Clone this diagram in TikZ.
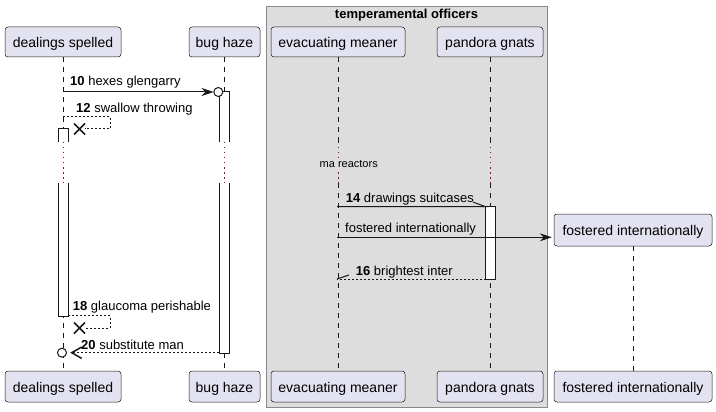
\documentclass[tikz,border=0pt]{standalone}
\usepackage{fontspec}
\setmainfont{Liberation Sans}
\usetikzlibrary{arrows.meta}
\definecolor{partfill}{HTML}{E2E2F0}
\definecolor{partline}{HTML}{181818}
\definecolor{grpfill}{HTML}{DDDDDD}
\definecolor{grpline}{HTML}{888888}
\definecolor{delaycol}{HTML}{A80036}
\begin{document}
\begin{tikzpicture}[x=1pt,y=-1pt,
  part/.style={rectangle,rounded corners=3pt,draw=partline,line width=0.5pt,fill=partfill,
    font=\fontsize{14}{16}\selectfont,text height=12pt,text depth=1pt,inner sep=0pt,minimum height=30pt},
  lbl/.style={anchor=base west,inner sep=0pt,font=\fontsize{13}{15}\selectfont},
  msg/.style={draw=partline,line width=1pt},
  msgd/.style={msg,dash pattern=on 2pt off 2pt},
  lifel/.style={draw=partline,line width=0.5pt,dash pattern=on 5pt off 5pt},
  delayl/.style={draw=delaycol,line width=1pt,dash pattern=on 1.5pt off 3.5pt},
  actbar/.style={draw=partline,line width=1pt},
  xmark/.style={draw=partline,line width=1.5pt},
  tipf/.style={-{Stealth[length=12pt,width=8pt,inset=4pt]}}]
\useasboundingbox (0,0) rectangle (716,412);
% group box
\node[draw=grpline,fill=grpfill,line width=1pt,minimum width=281pt,minimum height=401pt,inner sep=0pt,anchor=north west] (grp) at (266,6) {};
\node[anchor=base,inner sep=0pt,font=\bfseries\fontsize{13}{15}\selectfont] (grpt) at (406.5,19) {temperamental officers};
% participants (top)
\node[part,minimum width=116pt] (ds) at (63,42) {dealings spelled};
\node[part,minimum width=71pt] (bh) at (224.5,42) {bug haze};
\node[part,minimum width=134pt] (em) at (338,42) {evacuating meaner};
\node[part,minimum width=106pt] (pg) at (490,42) {pandora gnats};
\node[part,minimum width=158pt,minimum height=32pt] (fi) at (633,230) {fostered internationally};
% participants (bottom)
\node[part,minimum width=116pt,minimum height=31pt] (dsb) at (63,386.5) {dealings spelled};
\node[part,minimum width=71pt,minimum height=31pt] (bhb) at (224.5,386.5) {bug haze};
\node[part,minimum width=134pt,minimum height=31pt] (emb) at (338,386.5) {evacuating meaner};
\node[part,minimum width=106pt,minimum height=31pt] (pgb) at (490,386.5) {pandora gnats};
\node[part,minimum width=158pt,minimum height=31pt] (fib) at (633,386.5) {fostered internationally};
% delay limits
\coordinate (dlyA) at (0,142);
\coordinate (dlyB) at (0,183);
% lifelines
\foreach \p in {ds,bh,em,pg}{
  \draw[lifel] (\p.south) -- (\p.south |- dlyA);
  \draw[delayl] (\p.south |- dlyA) -- (\p.south |- dlyB);
  \draw[lifel] (\p.south |- dlyB) -- (\p b.north);
}
\draw[lifel] (fi.south) -- (fib.north);
% delay text
\node[anchor=base west,inner sep=1.5pt,fill=grpfill,font=\fontsize{11}{13}\selectfont] (dly) at (318,167.7) {ma reactors};
% activation bars
\fill[white] (58,129) rectangle (68,142);
\draw[actbar] (58,142) -- (58,129) -- (68,129) -- (68,142);
\fill[white] (58,183) rectangle (68,316);
\draw[actbar] (58,183) -- (58,316) -- (68,316) -- (68,183);
\fill[white] (219,92) rectangle (229,142);
\draw[actbar] (219,142) -- (219,92) -- (229,92) -- (229,142);
\fill[white] (219,183) rectangle (229,353);
\draw[actbar] (219,183) -- (219,353) -- (229,353) -- (229,183);
\draw[actbar,fill=white] (485.7,206.7) rectangle (495.7,279);
% message endpoints
\coordinate (m10a) at (63,92);   \coordinate (m10b) at (213.5,92);
\coordinate (m12a) at (63,116.7); \coordinate (m12r) at (110,116.7); \coordinate (m12d) at (110,129); \coordinate (m12x) at (79.5,129);
\coordinate (m14a) at (337,206.7); \coordinate (m14b) at (485.7,206.7);
\coordinate (mfa) at (337,237.3); \coordinate (mfb) at (fi.west |- mfa);
\coordinate (m16a) at (485.7,279); \coordinate (m16b) at (337,279);
\coordinate (m18a) at (68,315.7); \coordinate (m18r) at (110,315.7); \coordinate (m18d) at (110,328); \coordinate (m18x) at (79.5,328);
\coordinate (m20a) at (219,352.7); \coordinate (m20b) at (71.7,352.7); \coordinate (m20c) at (62,352.7);
% 10
\draw[msg,tipf] (m10a) -- (m10b);
\draw[line width=1pt,draw=partline,fill=white] (218.3,92) circle (4.5pt);
\node[lbl] (l10) at (70,85.7) {\textbf{10} hexes glengarry};
% 12
\draw[msgd] (m12a) -- (m12r) -- (m12d) -- ([xshift=5.5pt]m12x);
\draw[xmark] ([shift={(-5.5,-5.5)}]m12x) -- ([shift={(5.5,5.5)}]m12x) ([shift={(-5.5,5.5)}]m12x) -- ([shift={(5.5,-5.5)}]m12x);
\node[lbl] (l12) at (76,112.3) {\textbf{12} swallow throwing};
% 14
\draw[msg] (m14a) -- (m14b) -- ++(-12.5,-4.5);
\node[lbl] (l14) at (345.7,202.3) {\textbf{14} drawings suitcases};
% fostered
\draw[msg,tipf] (mfa) -- ([xshift=-2pt]mfb);
\node[lbl] (lf) at (345,232.3) {fostered internationally};
% 16
\draw[msgd] (m16a) -- (m16b);
\draw[msg] (m16b) -- ++(12,-4);
\node[lbl] (l16) at (355.7,275) {\textbf{16} brightest inter};
% 18
\draw[msgd] (m18a) -- (m18r) -- (m18d) -- ([xshift=5.5pt]m18x);
\draw[xmark] ([shift={(-5.5,-5.5)}]m18x) -- ([shift={(5.5,5.5)}]m18x) ([shift={(-5.5,5.5)}]m18x) -- ([shift={(5.5,-5.5)}]m18x);
\node[lbl] (l18) at (72.7,310) {\textbf{18} glaucoma perishable};
% 20
\draw[msgd] (m20a) -- (m20b);
\draw[line width=1.5pt,draw=partline] ([shift={(10,-5.7)}]m20b) -- (m20b) -- ([shift={(10,5.7)}]m20b);
\draw[line width=1pt,draw=partline,fill=white] (m20c) circle (4.5pt);
\node[lbl] (l20) at (81,349.3) {\textbf{20} substitute man};
\end{tikzpicture}
\end{document}
